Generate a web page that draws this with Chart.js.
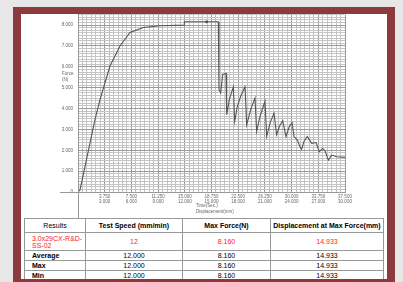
<!DOCTYPE html>
<html><head><meta charset="utf-8">
<script src="https://cdn.jsdelivr.net/npm/chart.js@4"></script>
<style>
html,body{margin:0;padding:0;width:403px;height:282px;overflow:hidden;background:#e6e7e6;}
#frame{position:absolute;left:13px;top:7px;width:382px;height:290px;background:#8c3a3e;}
#panel{position:absolute;left:21px;top:14px;width:366px;height:265px;background:#fff;overflow:hidden;}
#chart{position:absolute;left:0;top:-7px;}
table{position:absolute;left:3px;top:204px;width:359px;border-collapse:collapse;table-layout:fixed;font-family:"Liberation Sans",Arial,sans-serif;font-size:7px;color:#000;}
td{border:1px solid #999;padding:0;text-align:center;line-height:7px;overflow:hidden;white-space:nowrap;}
td.l{text-align:left;padding-left:7px;}
tr.h td{font-weight:bold;height:13px;}
tr.h td.n{font-weight:normal;}
tr.r td{color:#f22;height:17px;}
tr.s td{height:9px;}
tr.s td.l{font-weight:bold;}
</style></head>
<body>
<div id="frame"></div>
<div id="panel">
<canvas id="chart" width="366" height="211"></canvas>
<table>
<colgroup><col style="width:61px"><col style="width:97px"><col style="width:88px"><col style="width:113px"></colgroup>
<tr class="h"><td class="n">Results</td><td>Test Speed (mm/min)</td><td>Max Force(N)</td><td>Displacement at Max Force(mm)</td></tr>
<tr class="r"><td class="l">3.0x29CX-R&amp;D-<br>SS-02</td><td>12</td><td>8.160</td><td>14.933</td></tr>
<tr class="s"><td class="l">Average</td><td>12.000</td><td>8.160</td><td>14.933</td></tr>
<tr class="s"><td class="l">Max</td><td>12.000</td><td>8.160</td><td>14.933</td></tr>
<tr class="s"><td class="l">Min</td><td>12.000</td><td>8.160</td><td>14.933</td></tr>
</table>
</div>
<script>
const xVals = [0,0.28,0.98,1.69,2.39,3.09,4.49,5.90,7.30,9.17,11.52,14.89,14.933,19.71,
  19.80,20.04,20.32,20.79,20.88,21.25,21.82,22.00,22.38,22.85,23.46,23.69,24.25,24.86,25.09,
  25.56,26.26,26.50,26.97,27.53,27.90,28.28,28.75,29.21,29.68,30.06,30.34,30.80,31.18,31.41,
  31.74,32.21,32.82,33.43,33.89,34.36,34.69,35.16,35.63,36.33,37.50];
const yVals = [0,0.10,1.22,2.36,3.47,4.43,6.04,7.00,7.65,7.89,7.97,8.00,8.16,8.16,
  4.91,4.75,5.64,5.68,3.70,4.43,5.04,3.38,4.11,4.59,5.04,3.22,3.95,4.51,2.90,
  3.62,4.35,2.66,3.30,3.78,2.74,3.14,3.43,2.66,3.14,3.33,2.66,2.50,2.17,2.05,
  2.42,2.66,2.33,2.37,1.93,2.09,1.98,1.53,1.77,1.69,1.66];
const markX = [18.07];
const markY = [8.16];
const xTopLabels = ['','3.750','7.500','11.250','15.000','18.750','22.500','26.250','30.000','33.750','37.500'];
const xBottomLabels = ['','3.000','6.000','9.000','12.000','15.000','18.000','21.000','24.000','27.000','30.000'];
const yLabels = ['0','1.000','2.000','3.000','4.000','5.000','6.000','7.000','8.000'];
const yTitle = ['Force','(N)'];
const xTitle = ['Time(Sec.)','Displacement(mm)'];

const X_MAJOR = 3.75;
function isMajorX(v){const r=v/X_MAJOR;return Math.abs(r-Math.round(r))<1e-6;}
function isMajorY(v){return Math.abs(v-Math.round(v))<1e-6;}

const extras = {
  id:'extras',
  afterDraw(chart){
    const {ctx, chartArea:a} = chart;
    ctx.save();
    ctx.strokeStyle='#999'; ctx.lineWidth=1;
    ctx.beginPath();
    ctx.moveTo(Math.round(a.left)+0.5, a.top); ctx.lineTo(Math.round(a.left)+0.5, chart.height);
    ctx.moveTo(39, Math.round(a.bottom)+0.5); ctx.lineTo(a.left, Math.round(a.bottom)+0.5);
    ctx.stroke();
    ctx.fillStyle='#666'; ctx.font='4.5px "Liberation Sans", Arial, sans-serif';
    ctx.textBaseline='middle'; ctx.textAlign='left';
    ctx.fillText(yTitle[0], 41, 67); ctx.fillText(yTitle[1], 41, 73);
    ctx.fillText(xTitle[0], 175, 199); ctx.fillText(xTitle[1], 175, 204.5);
    ctx.restore();
  }
};

new Chart(document.getElementById('chart'), {
  type:'line',
  data:{datasets:[
    {data:xVals.map((x,i)=>({x:x,y:yVals[i]})), borderColor:'#555', borderWidth:1.1, pointRadius:0, tension:0, fill:false},
    {data:markX.map((x,i)=>({x:x,y:markY[i]})), showLine:false, pointRadius:1.4, pointBackgroundColor:'#333', pointBorderWidth:0}
  ]},
  options:{
    responsive:false, animation:false, devicePixelRatio:1,
    layout:{padding:{left:0,right:42,top:0,bottom:0}},
    plugins:{legend:{display:false}, tooltip:{enabled:false}},
    scales:{
      x:{type:'linear', min:0, max:37.5,
        afterFit(s){s.height=26;},
        ticks:{stepSize:0.625, autoSkip:false, maxRotation:0, minRotation:0, padding:2, color:'#666',
          font:{size:4.5, family:'"Liberation Sans", Arial, sans-serif'},
          callback(v){ if(!isMajorX(v)) return ''; const k=Math.round(v/X_MAJOR); if(!xTopLabels[k]) return ''; return [xTopLabels[k], xBottomLabels[k]]; }},
        grid:{drawTicks:false, lineWidth:1, color(c){ return isMajorX(c.tick.value)?'#999':'#c4c4c4'; }},
        border:{color:'#999'}
      },
      y:{type:'linear', min:0, max:8.5,
        afterFit(s){s.width=57;},
        ticks:{stepSize:0.125, autoSkip:false, padding:5, color:'#666',
          font:{size:4.5, family:'"Liberation Sans", Arial, sans-serif'},
          callback(v){ if(!isMajorY(v)) return ''; const k=Math.round(v); return yLabels[k]!==undefined?yLabels[k]:''; }},
        grid:{drawTicks:false, lineWidth:1, color(c){ return isMajorY(c.tick.value)?'#999':'#c4c4c4'; }},
        border:{color:'#999'}
      }
    }
  },
  plugins:[extras]
});
</script>
</body></html>
